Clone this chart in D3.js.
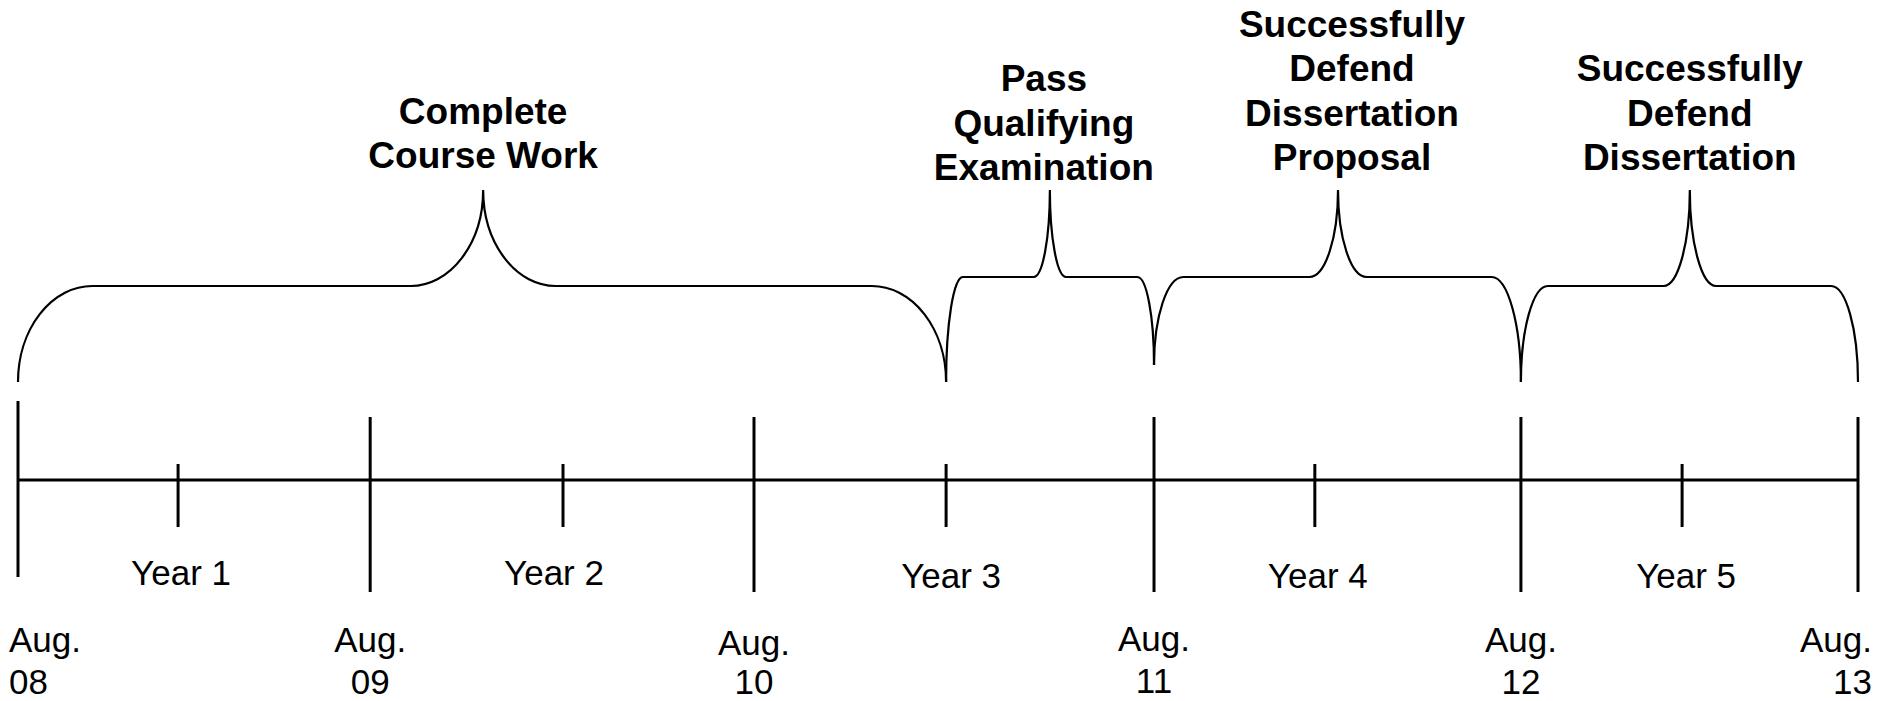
<!DOCTYPE html>
<html>
<head>
<meta charset="utf-8">
<script src="https://cdn.jsdelivr.net/npm/d3@7"></script>
<style>
  html, body { margin: 0; padding: 0; background: #ffffff; }
  svg { display: block; }
</style>
</head>
<body>
<svg id="chart" width="1881" height="701"></svg>
<script>
// ---------------- DATA (time measured in years since Aug. 2008) ----------------
const dateTicks   = [0, 0.957, 2.0, 3.087, 4.084, 5.0];
const dateMonths  = ["Aug.", "Aug.", "Aug.", "Aug.", "Aug.", "Aug."];
const dateYears   = ["08", "09", "10", "11", "12", "13"];

const yearTicks   = [0.435, 1.481, 2.522, 3.524, 4.522];
const yearLabels  = ["Year 1", "Year 2", "Year 3", "Year 4", "Year 5"];

const milestoneLines = [
  ["Complete", "Course Work"],
  ["Pass", "Qualifying", "Examination"],
  ["Successfully", "Defend", "Dissertation", "Proposal"],
  ["Successfully", "Defend", "Dissertation"]
];
const milestoneStart = [0, 2.522, 3.087, 4.084];
const milestoneEnd   = [2.522, 3.087, 4.084, 5.0];
const milestonePeak  = [1.264, 2.804, 3.587, 4.543];

// ---------------- LAYOUT ----------------
const W = 1881, H = 701;
const svg = d3.select("#chart");
const x = d3.scaleLinear().domain([0, 5]).range([18, 1858]);

const axisY = 480;
const fontFamily = "'Liberation Sans', Arial, Helvetica, sans-serif";
const braceTopY = 190;
const braceFlatY  = [286, 277, 277, 286];
const braceLeftY  = [382, 382, 365, 382];
const braceRightY = [382, 365, 382, 382];
const labelDx     = [0, -6, 14, 0];
const labelLastBaseline = [168, 180, 170, 170];
const lineStep = 44.5;
const yearLabelDx = [3, -9, 5, 3, 4];
const yearLabelY  = [585, 585, 588, 588, 588];
const monthLabelDy = [0, 0, 3, -1, 0, 0];
const numLabelDy   = [0, 0, 0, -1, 0, 0];

// main axis line
svg.append("line")
  .attr("x1", x(0)).attr("x2", x(5))
  .attr("y1", axisY).attr("y2", axisY)
  .attr("stroke", "#000").attr("stroke-width", 3);

// major (date) ticks
svg.selectAll("line.major")
  .data(dateTicks)
  .join("line")
  .attr("class", "major")
  .attr("x1", d => x(d)).attr("x2", d => x(d))
  .attr("y1", (d, i) => i === 0 ? 401 : 417)
  .attr("y2", (d, i) => i === 0 ? 577 : 592)
  .attr("stroke", "#000").attr("stroke-width", 3);

// minor (year) ticks
svg.selectAll("line.minor")
  .data(yearTicks)
  .join("line")
  .attr("class", "minor")
  .attr("x1", d => x(d)).attr("x2", d => x(d))
  .attr("y1", 464).attr("y2", 527)
  .attr("stroke", "#000").attr("stroke-width", 3);

// year labels
svg.selectAll("text.year")
  .data(yearTicks)
  .join("text")
  .attr("class", "year")
  .attr("x", (d, i) => x(d) + yearLabelDx[i])
  .attr("y", (d, i) => yearLabelY[i])
  .attr("text-anchor", "middle")
  .attr("font-family", fontFamily)
  .attr("font-size", 35)
  .attr("fill", "#000")
  .text((d, i) => yearLabels[i]);

// date labels (two lines), clamped inside the picture
function placeClamped(sel, cx) {
  sel.attr("x", cx).attr("text-anchor", "middle");
  const bb = sel.node().getBBox();
  let c = cx;
  const minL = 9, maxR = 1872;
  if (c - bb.width / 2 < minL) c = minL + bb.width / 2;
  if (c + bb.width / 2 > maxR) c = maxR - bb.width / 2;
  sel.attr("x", c);
}
dateTicks.forEach((d, i) => {
  const t1 = svg.append("text")
    .attr("y", 652 + monthLabelDy[i])
    .attr("font-family", fontFamily).attr("font-size", 35).attr("fill", "#000")
    .text(dateMonths[i]);
  placeClamped(t1, x(d));
  const t2 = svg.append("text")
    .attr("y", 694 + numLabelDy[i])
    .attr("font-family", fontFamily).attr("font-size", 35).attr("fill", "#000")
    .text(dateYears[i]);
  placeClamped(t2, x(d));
});

// curly braces
function bracePath(x0, x1, xc, yL, yR, yF, yT) {
  const w = x1 - x0;
  const cw = 0.08 * w;     // corner width
  const ch = 0.078 * w;    // cusp half width
  let s = `M${x0},${yL}`;
  s += ` A${cw},${yL - yF} 0 0 1 ${x0 + cw},${yF}`;
  s += ` L${xc - ch},${yF}`;
  s += ` A${ch},${yF - yT} 0 0 0 ${xc},${yT}`;
  s += ` A${ch},${yF - yT} 0 0 0 ${xc + ch},${yF}`;
  s += ` L${x1 - cw},${yF}`;
  s += ` A${cw},${yR - yF} 0 0 1 ${x1},${yR}`;
  return s;
}

svg.selectAll("path.brace")
  .data(milestoneStart)
  .join("path")
  .attr("class", "brace")
  .attr("d", (d, i) => bracePath(x(milestoneStart[i]), x(milestoneEnd[i]), x(milestonePeak[i]),
                                 braceLeftY[i], braceRightY[i], braceFlatY[i], braceTopY))
  .attr("fill", "none")
  .attr("stroke", "#000")
  .attr("stroke-width", 2.2);

// milestone labels
milestoneLines.forEach((lines, i) => {
  const t = svg.append("text")
    .attr("text-anchor", "middle")
    .attr("font-family", fontFamily)
    .attr("font-weight", "bold")
    .attr("font-size", 37)
    .attr("fill", "#000");
  const n = lines.length;
  lines.forEach((ln, j) => {
    t.append("tspan")
      .attr("x", x(milestonePeak[i]) + labelDx[i])
      .attr("y", labelLastBaseline[i] - (n - 1 - j) * lineStep)
      .text(ln);
  });
});
</script>
</body>
</html>
